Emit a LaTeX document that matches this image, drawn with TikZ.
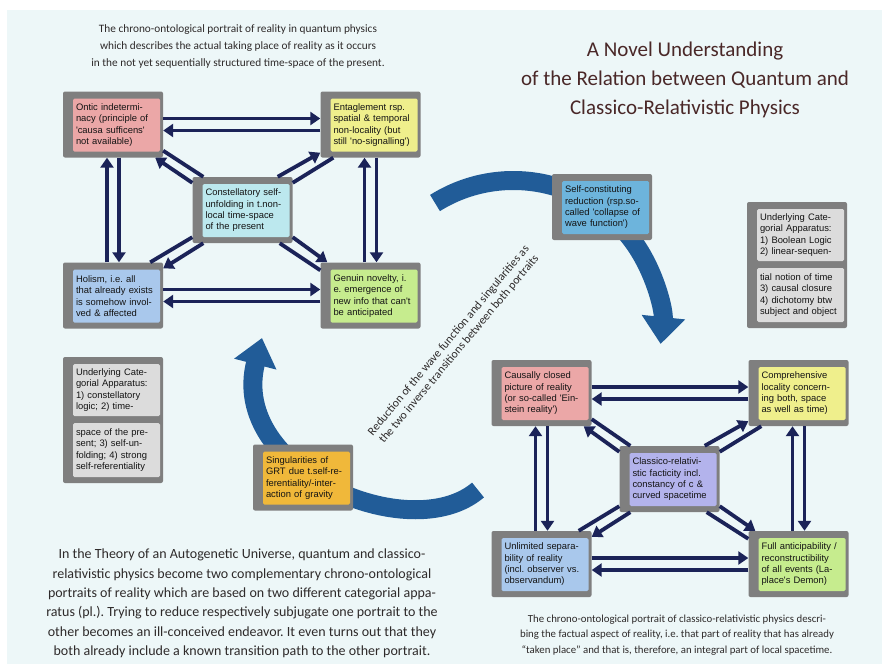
\documentclass[tikz,border=0pt]{standalone}
\usepackage{fontspec}
\setmainfont{Carlito}
\newfontfamily\arialfont{Liberation Sans}
\usetikzlibrary{arrows.meta}
\frenchspacing
\definecolor{navy}{HTML}{1B2358}
\definecolor{framegray}{HTML}{7F7F7F}
\definecolor{bigblue}{HTML}{215C98}
\definecolor{bgcyan}{HTML}{EDF7F8}
\definecolor{titlered}{HTML}{4A2828}
\definecolor{captext}{HTML}{2E2A2A}
\definecolor{boxtext}{HTML}{141414}
\definecolor{pinkc}{HTML}{EBA7A7}
\definecolor{yellowc}{HTML}{EFEF8C}
\definecolor{cyanc}{HTML}{BCE8EE}
\definecolor{bluec}{HTML}{A9C8EC}
\definecolor{greenc}{HTML}{C6EC8E}
\definecolor{lilac}{HTML}{B3B3EC}
\definecolor{skyc}{HTML}{6DB4DC}
\definecolor{goldc}{HTML}{F0B83A}
\definecolor{greyc}{HTML}{DCDCDC}
\begin{document}
\begin{tikzpicture}[x=1pt, y=-1pt,
  frame/.style={fill=framegray, rounded corners=2pt, minimum width=100pt,
    minimum height=66pt, inner sep=0pt},
  cell/.style={rounded corners=1.5pt, minimum width=87pt, minimum height=53pt,
    text width=81pt, inner sep=3pt, align=left, text=boxtext,
    font=\arialfont\fontsize{9.4}{11.3}\selectfont},
  link/.style={draw=navy, line width=3.8pt, -{Triangle[width=13pt,length=10pt]}},
  tie/.style={draw=navy, line width=3.8pt},
  bigarrow/.style={draw=bigblue, line width=19pt, -{Triangle[width=42pt,length=27pt]}}]
  \useasboundingbox (0,0) rectangle (882,664);
  \fill[white] (0,0) rectangle (882,664);
  \fill[bgcyan] (7,10) rectangle (882,664);

  % the two transitions
  \coordinate (qtail) at (435,203);
  \coordinate (gtail) at (478,490);
  \coordinate (gtip) at (262,338);
  \draw[bigarrow] (qtail) arc[start angle=238, end angle=366, radius=148];
  \draw[bigarrow] (gtail) .. controls (410,548) and (228,470) .. (gtip);

  \node[rotate=50, align=center, text=captext, font=\fontsize{11.8}{13.5}\selectfont]
    (reduct) at (454,345) {Reduction of the wave function and singularities as\\the two inverse transitions between both portraits};

  % quantum portrait
  \node[frame] (ontic) at (113,124.5) {};
  \node[cell, fill=pinkc] (ontic-t) at ([xshift=3.5pt,yshift=-0.5pt]ontic.center)
    {Ontic indetermi-\\nacy (principle of\\'causa sufficens'\\not available)};
  \node[frame] (entag) at (370.5,124.5) {};
  \node[cell, fill=yellowc] (entag-t) at ([xshift=3.5pt,yshift=-0.5pt]entag.center)
    {Entaglement rsp.\\spatial \& temporal\\non-locality (but\\still 'no-signalling')};
  \node[frame] (cst) at (242.5,210) {};
  \node[cell, fill=cyanc] (cst-t) at ([xshift=3.5pt,yshift=-0.5pt]cst.center)
    {Constellatory self-\\unfolding in t.non-\\local time-space\\of the present};
  \node[frame] (holism) at (113,295.5) {};
  \node[cell, fill=bluec] (holism-t) at ([xshift=3.5pt,yshift=-0.5pt]holism.center)
    {Holism, i.e. all\\that already exists\\is somehow invol-\\ved \& affected};
  \node[frame] (genuin) at (370.5,295.5) {};
  \node[cell, fill=greenc] (genuin-t) at ([xshift=3.5pt,yshift=-0.5pt]genuin.center)
    {Genuin novelty, i.\\e. emergence of\\new info that can't\\be anticipated};

  \draw[link] ([yshift=6pt]ontic.east) -- ([yshift=6pt]entag.west);
  \draw[link] ([yshift=-6pt]entag.west) -- ([yshift=-6pt]ontic.east);
  \draw[link] ([yshift=6pt]holism.east) -- ([yshift=6pt]genuin.west);
  \draw[link] ([yshift=-6pt]genuin.west) -- ([yshift=-6pt]holism.east);
  \draw[link] ([xshift=-6pt]holism.north) -- ([xshift=-6pt]ontic.south);
  \draw[link] ([xshift=6pt]ontic.south) -- ([xshift=6pt]holism.north);
  \draw[link] ([xshift=-6pt]genuin.north) -- ([xshift=-6pt]entag.south);
  \draw[link] ([xshift=6pt]entag.south) -- ([xshift=6pt]genuin.north);
  \draw[link] ([yshift=-6pt]cst.north west) -- ([xshift=-8pt]ontic.south east);
  \draw[tie] ([yshift=7pt]ontic.south east) -- ([xshift=11pt]cst.north west);
  \draw[link] ([xshift=-15pt]cst.north east) -- ([yshift=5pt]entag.south west);
  \draw[tie] ([xshift=13pt]entag.south west) -- ([yshift=-6pt]cst.north east);
  \draw[link] ([xshift=11pt]cst.south west) -- ([yshift=-6pt]holism.north east);
  \draw[tie] ([xshift=-13pt]holism.north east) -- ([yshift=6pt]cst.south west);
  \draw[link] ([yshift=6pt]cst.south east) -- ([xshift=7pt]genuin.north west);
  \draw[tie] ([yshift=-8pt]genuin.north west) -- ([xshift=-13pt]cst.south east);

  % classico-relativistic portrait
  \node[frame] (causal) at (541.5,393) {};
  \node[cell, fill=pinkc] (causal-t) at ([xshift=3.5pt,yshift=-0.5pt]causal.center)
    {Causally closed\\picture of reality\\(or so-called 'Ein-\\stein reality')};
  \node[frame] (compre) at (798.5,393) {};
  \node[cell, fill=yellowc] (compre-t) at ([xshift=3.5pt,yshift=-0.5pt]compre.center)
    {Comprehensive\\locality concern-\\ing both, space\\as well as time)};
  \node[frame] (classico) at (669.5,479) {};
  \node[cell, fill=lilac] (classico-t) at ([xshift=3.5pt,yshift=-0.5pt]classico.center)
    {Classico-relativi-\\stic facticity incl.\\constancy of c \&\\curved spacetime};
  \node[frame] (unlim) at (541.5,564) {};
  \node[cell, fill=bluec] (unlim-t) at ([xshift=3.5pt,yshift=-0.5pt]unlim.center)
    {Unlimited separa-\\bility of reality\\(incl. observer vs.\\observandum)};
  \node[frame] (fullant) at (798.5,564) {};
  \node[cell, fill=greenc] (fullant-t) at ([xshift=3.5pt,yshift=-0.5pt]fullant.center)
    {Full anticipability /\\reconstructibility\\of all events (La-\\place's Demon)};

  \draw[link] ([yshift=6pt]causal.east) -- ([yshift=6pt]compre.west);
  \draw[link] ([yshift=-6pt]compre.west) -- ([yshift=-6pt]causal.east);
  \draw[link] ([yshift=6pt]unlim.east) -- ([yshift=6pt]fullant.west);
  \draw[link] ([yshift=-6pt]fullant.west) -- ([yshift=-6pt]unlim.east);
  \draw[link] ([xshift=-6pt]unlim.north) -- ([xshift=-6pt]causal.south);
  \draw[link] ([xshift=6pt]causal.south) -- ([xshift=6pt]unlim.north);
  \draw[link] ([xshift=-6pt]fullant.north) -- ([xshift=-6pt]compre.south);
  \draw[link] ([xshift=6pt]compre.south) -- ([xshift=6pt]fullant.north);
  \draw[link] ([yshift=-6pt]classico.north west) -- ([xshift=-8pt]causal.south east);
  \draw[tie] ([yshift=7pt]causal.south east) -- ([xshift=11pt]classico.north west);
  \draw[link] ([xshift=-15pt]classico.north east) -- ([yshift=5pt]compre.south west);
  \draw[tie] ([xshift=13pt]compre.south west) -- ([yshift=-6pt]classico.north east);
  \draw[link] ([xshift=11pt]classico.south west) -- ([yshift=-6pt]unlim.north east);
  \draw[tie] ([xshift=-13pt]unlim.north east) -- ([yshift=6pt]classico.south west);
  \draw[link] ([yshift=6pt]classico.south east) -- ([xshift=7pt]fullant.north west);
  \draw[tie] ([yshift=-8pt]fullant.north west) -- ([xshift=-13pt]classico.south east);

  % transition boxes and categorial apparatus
  \node[frame] (selfred) at (602,207) {};
  \node[cell, fill=skyc] (selfred-t) at ([xshift=3.5pt,yshift=-0.5pt]selfred.center)
    {Self-constituting\\reduction (rsp.so-\\called 'collapse of\\wave function')};
  \node[frame] (singular) at (303,477.5) {};
  \node[cell, fill=goldc] (singular-t) at ([xshift=3.5pt,yshift=-0.5pt]singular.center)
    {Singularities of\\GRT due t.self-re-\\ferentiality/-inter-\\action of gravity};
  \node[frame, minimum height=126pt] (underR) at (797,265) {};
  \node[cell, fill=greyc, minimum height=52pt] (underR-a) at ([xshift=3.5pt,yshift=30pt]underR.center)
    {Underlying Cate-\\gorial Apparatus:\\1) Boolean Logic\\2) linear-sequen-};
  \node[cell, fill=greyc, minimum height=54pt] (underR-b) at ([xshift=3.5pt,yshift=-30pt]underR.center)
    {tial notion of time\\3) causal closure\\4) dichotomy btw\\subject and object};
  \node[frame, minimum height=126pt] (underL) at (113,420) {};
  \node[cell, fill=greyc, minimum height=52pt] (underL-a) at ([xshift=3.5pt,yshift=30pt]underL.center)
    {Underlying Cate-\\gorial Apparatus:\\1) constellatory\\logic; 2) time-};
  \node[cell, fill=greyc, minimum height=54pt] (underL-b) at ([xshift=3.5pt,yshift=-30pt]underL.center)
    {space of the pre-\\sent; 3) self-un-\\folding; 4) strong\\self-referentiality};

  % texts
  \node[align=center, text=titlered, font=\fontsize{21}{29}\selectfont] (title) at (685,80)
    {A Novel Understanding\\of the Relation between Quantum and\\Classico-Relativistic Physics};
  \node[align=center, text=captext, font=\fontsize{11.3}{17}\selectfont] (qcap) at (238,46)
    {The chrono-ontological portrait of reality in quantum physics\\which describes the actual taking place of reality as it occurs\\in the not yet sequentially structured time-space of the present.};
  \node[align=center, text=captext, font=\fontsize{10.8}{15.5}\selectfont] (ccap) at (677,635)
    {The chrono-ontological portrait of classico-relativistic physics descri-\\bing the factual aspect of reality, i.e. that part of reality that has already\\``taken place'' and that is, therefore, an integral part of local spacetime.};
  \node[align=center, text=captext, font=\fontsize{14}{19.4}\selectfont] (summary) at (242,603.5)
    {In the Theory of an Autogenetic Universe, quantum and classico-\\relativistic physics become two complementary chrono-ontological\\portraits of reality which are based on two different categorial appa-\\ratus (pl.). Trying to reduce respectively subjugate one portrait to the\\other becomes an ill-conceived endeavor. It even turns out that they\\both already include a known transition path to the other portrait.};
\end{tikzpicture}
\end{document}
